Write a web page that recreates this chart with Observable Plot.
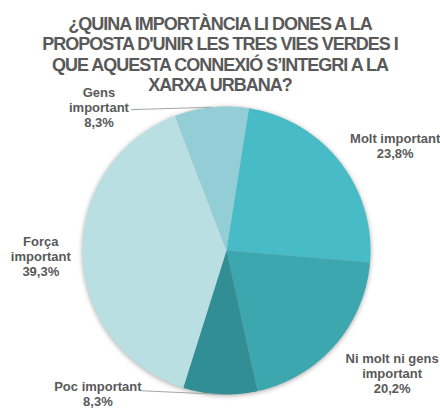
<!DOCTYPE html>
<html>
<head>
<meta charset="utf-8">
<script src="https://cdn.jsdelivr.net/npm/d3@7"></script>
<script src="https://cdn.jsdelivr.net/npm/@observablehq/plot@0.6"></script>
<style>
  html, body { margin: 0; padding: 0; background: #fff; }
  #wrap { position: relative; width: 440px; height: 409px; overflow: hidden; }
  #title {
    position: absolute; left: 0; top: 14px; width: 440px; text-align: center;
    font-family: "Liberation Sans", Arial, sans-serif; font-weight: bold;
    font-size: 18px; line-height: 20.3px; letter-spacing: -1px; color: #595959;
    z-index: 2;
  }
  svg { position: absolute; left: 0; top: 0; }
</style>
</head>
<body>
<div id="wrap">
  <div id="title"></div>
</div>
<script>
// ---- data ----
const titleLines = [
  "¿QUINA IMPORTÀNCIA LI DONES A LA",
  "PROPOSTA D'UNIR LES TRES VIES VERDES I",
  "QUE AQUESTA CONNEXIÓ S’INTEGRI A LA",
  "XARXA URBANA?"
];
const categories = ["Molt important", "Ni molt ni gens important", "Poc important", "Força important", "Gens important"];
const categoryLabels = ["Molt important", "Ni molt ni gens\nimportant", "Poc important", "Força\nimportant", "Gens\nimportant"];
const values = [23.8, 20.2, 8.3, 39.3, 8.3];
const valueLabels = ["23,8%", "20,2%", "8,3%", "39,3%", "8,3%"];

// ---- style / layout ----
const colors = ["#47bbc6", "#3da7b0", "#318e94", "#badfe3", "#93ced7"];
const startDeg = 9;
const R = 144;                 // pie radius, px
const CX = 226, CY = 250;      // pie centre, px
const labelShiftDeg = [6.2, -4.7, 39.4, 0, -35.8];
const labelRadius   = [1.38, 1.43, 1.337, 1.29, 1.33];
const leaderOffsetPx = [null, null, [44, -3], null, [32, 2]];

document.getElementById("title").innerHTML = titleLines.join("<br>");

const rad = d => d * Math.PI / 180;
const arcs = d3.pie().sort(null).value(d => d.value)
  .startAngle(rad(startDeg)).endAngle(rad(startDeg) + 2 * Math.PI)(
    categories.map((c, i) => ({category: c, value: values[i], i}))
  );

// slice outlines (unit circle, clockwise from top)
const slicePts = [];
arcs.forEach(a => {
  const c = a.data.category;
  slicePts.push({category: c, x: 0, y: 0});
  const n = Math.max(2, Math.ceil((a.endAngle - a.startAngle) / rad(0.5)));
  for (let k = 0; k <= n; k++) {
    const t = a.startAngle + (a.endAngle - a.startAngle) * k / n;
    slicePts.push({category: c, x: Math.sin(t), y: Math.cos(t)});
  }
  slicePts.push({category: c, x: 0, y: 0});
});

const labels = arcs.map(a => {
  const i = a.data.i;
  const mid = (a.startAngle + a.endAngle) / 2 + rad(labelShiftDeg[i]);
  return {
    text: categoryLabels[i] + "\n" + valueLabels[i],
    x: labelRadius[i] * Math.sin(mid),
    y: labelRadius[i] * Math.cos(mid)
  };
});

const leaders = [];
arcs.forEach((a, j) => {
  const i = a.data.i;
  if (!leaderOffsetPx[i]) return;
  const mid = (a.startAngle + a.endAngle) / 2;
  leaders.push({
    x1: labels[j].x + leaderOffsetPx[i][0] / R,
    y1: labels[j].y - leaderOffsetPx[i][1] / R,
    x2: Math.sin(mid), y2: Math.cos(mid)
  });
});

const chart = Plot.plot({
  width: 440,
  height: 409,
  x: {domain: [-1, 1], range: [CX - R, CX + R], axis: null},
  y: {domain: [-1, 1], range: [CY + R, CY - R], axis: null},
  color: {domain: categories, range: colors},
  style: {background: "transparent", fontFamily: "'Liberation Sans', Arial, sans-serif"},
  marks: [
    Plot.line(slicePts, {x: "x", y: "y", z: "category", fill: "category", stroke: "none", curve: "linear"}),
    Plot.link(leaders, {x1: "x1", y1: "y1", x2: "x2", y2: "y2", stroke: "#a6a6a6", strokeWidth: 1}),
    Plot.text(labels, {
      x: "x", y: "y", text: "text", fill: "#595959", fontSize: 13, fontWeight: "bold",
      lineHeight: 1.15, textAnchor: "middle", lineAnchor: "middle"
    })
  ]
});
chart.querySelectorAll('g[aria-label="line"]').forEach(g => {
  g.style.filter = "drop-shadow(0px 1px 2.5px rgba(0,0,0,0.35))";
});
document.getElementById("wrap").appendChild(chart);
</script>
</body>
</html>
